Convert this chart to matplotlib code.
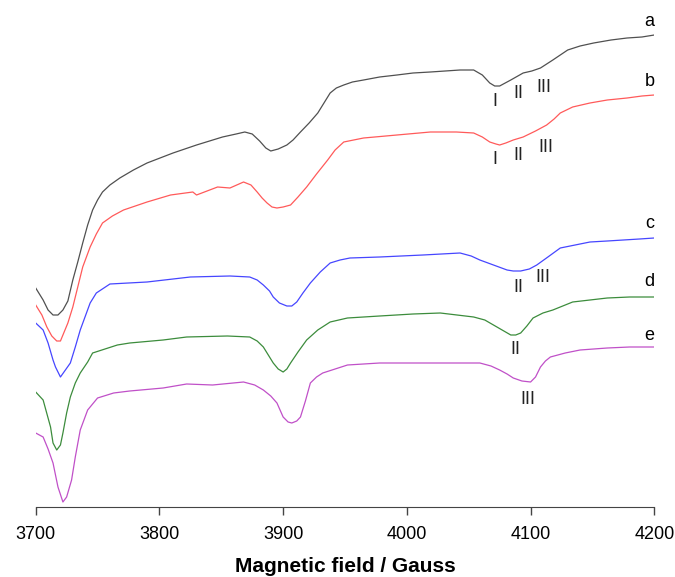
import matplotlib.pyplot as plt

## field (Gauss) and intensity (arb. units)
field_a = [3700, 3706, 3710, 3714, 3718, 3722, 3726, 3730, 3734, 3738, 3742, 3746, 3750, 3754,
           3760, 3768, 3779, 3790, 3811, 3830, 3851, 3862, 3869, 3875, 3881, 3886, 3890,
           3896, 3903, 3908, 3914, 3921, 3928, 3933, 3938, 3943, 3949, 3956, 3965, 3978,
           3992, 4005, 4019, 4031, 4043, 4054, 4061, 4067, 4071, 4075, 4084, 4094, 4101,
           4108, 4118, 4130, 4140, 4151, 4165, 4178, 4190, 4200]
sig_a = [219, 207, 197, 192, 192, 197, 206, 227, 245, 264, 282, 297, 307, 315,
         322, 329, 337, 344, 354, 362, 370, 373, 375, 373, 366, 359, 356,
         358, 362, 367, 375, 384, 394, 404, 414, 419, 422, 425, 427, 430,
         432, 434, 435, 436, 437, 437, 432, 424, 421, 421, 427, 434, 436,
         439, 447, 457, 461, 464, 467, 469, 470, 472]

field_b = [3700, 3705, 3709, 3713, 3717, 3720, 3722, 3726, 3730, 3734, 3738, 3744, 3749, 3754,
           3762, 3771, 3790, 3809, 3827, 3830, 3847, 3857, 3868, 3874, 3879, 3883, 3887,
           3891, 3895, 3900, 3906, 3912, 3919, 3927, 3936, 3942, 3949, 3965, 3992, 4019,
           4040, 4054, 4061, 4067, 4072, 4075, 4080, 4086, 4094, 4104, 4113, 4119, 4124,
           4134, 4148, 4162, 4178, 4190, 4200]
sig_b = [202, 192, 180, 171, 166, 166, 172, 184, 200, 220, 240, 260, 273, 284,
         291, 297, 305, 312, 315, 312, 320, 319, 325, 322, 315, 309, 304,
         300, 299, 300, 302, 310, 320, 333, 347, 357, 365, 369, 372, 375,
         375, 374, 370, 365, 363, 362, 364, 367, 370, 376, 382, 388, 394,
         400, 404, 407, 409, 411, 412]

field_c = [3700, 3706, 3710, 3714, 3716, 3720, 3724, 3728, 3732, 3736, 3744, 3749, 3760, 3775,
           3790, 3825, 3857, 3873, 3879, 3884, 3889, 3892, 3897, 3903, 3907, 3911, 3916,
           3922, 3930, 3938, 3946, 3954, 3978, 4013, 4043, 4052, 4059, 4070, 4081, 4086,
           4092, 4099, 4105, 4114, 4124, 4136, 4148, 4162, 4175, 4188, 4200]
sig_c = [184, 177, 164, 147, 140, 130, 137, 144, 160, 177, 204, 214, 223, 224,
         225, 230, 231, 230, 227, 222, 216, 210, 204, 201, 201, 205, 214,
         224, 235, 244, 247, 249, 250, 252, 254, 251, 247, 242, 237, 236,
         236, 238, 242, 250, 259, 262, 265, 266, 267, 268, 269]

field_d = [3700, 3706, 3712, 3714, 3717, 3720, 3722, 3725, 3728, 3732, 3736, 3742, 3746, 3766,
           3776, 3803, 3822, 3855, 3873, 3879, 3884, 3888, 3892, 3896, 3900, 3903, 3906,
           3912, 3919, 3928, 3938, 3952, 3978, 4005, 4027, 4054, 4063, 4070, 4077, 4084,
           4088, 4092, 4097, 4102, 4110, 4118, 4134, 4148, 4162, 4180, 4200]
sig_d = [115, 107, 80, 64, 57, 62, 74, 94, 110, 124, 134, 145, 154, 162,
         164, 167, 170, 171, 170, 166, 160, 152, 144, 138, 135, 138, 144,
         155, 167, 177, 185, 189, 191, 193, 194, 190, 187, 182, 177, 172,
         172, 174, 181, 189, 194, 197, 205, 207, 209, 210, 210]

field_e = [3700, 3706, 3710, 3714, 3718, 3722, 3725, 3729, 3732, 3736, 3742, 3750, 3763, 3776,
           3803, 3822, 3843, 3868, 3877, 3884, 3890, 3895, 3900, 3904, 3907, 3911, 3914,
           3918, 3922, 3927, 3932, 3942, 3952, 3978, 4027, 4059, 4068, 4075, 4081, 4086,
           4093, 4100, 4104, 4108, 4112, 4116, 4128, 4140, 4162, 4180, 4200]
sig_e = [74, 70, 58, 44, 20, 5, 10, 27, 50, 77, 97, 109, 114, 116,
         119, 123, 122, 125, 122, 117, 111, 104, 90, 85, 84, 86, 90,
         106, 124, 130, 134, 138, 142, 144, 144, 144, 141, 137, 133, 129,
         126, 125, 130, 140, 146, 150, 154, 157, 159, 160, 160]

curve_names = ["a", "b", "c", "d", "e"]
curve_colors = ["#505050", "#ff5a5a", "#4646ff", "#3c8c3c", "#c050c8"]
name_pos = [(4196, 485), (4196, 425), (4196, 284), (4196, 225), (4196, 172)]

## roman numeral site labels: (text, field, height)
site_labels = [("I", 4071, 405), ("II", 4090, 414), ("III", 4111, 420),
               ("I", 4071, 348), ("II", 4090, 352), ("III", 4112, 359),
               ("II", 4090, 220), ("III", 4110, 230),
               ("II", 4088, 158),
               ("III", 4098, 107)]

plt.rcParams['font.family'] = ['Liberation Sans', 'DejaVu Sans']

fig = plt.figure(figsize=(6.75, 5.77), dpi=100)
ax = fig.add_axes([35.7/675, 70/577, 618.6/675, 507/577])

fields = [field_a, field_b, field_c, field_d, field_e]
sigs = [sig_a, sig_b, sig_c, sig_d, sig_e]
for f, s, c in zip(fields, sigs, curve_colors):
    ax.plot(f, s, color=c, lw=0.9)

for n, (x, y) in zip(curve_names, name_pos):
    ax.text(x, y, n, fontsize=13, ha="center", va="center", color="black")
for t, x, y in site_labels:
    ax.text(x, y, t, fontsize=13, ha="center", va="center", color="#222222")

ax.set_xlim(3700, 4200)
ax.set_ylim(0, 507)
ax.set_xticks([3700, 3800, 3900, 4000, 4100, 4200])
ax.set_yticks([])
for side in ["left", "right", "top"]:
    ax.spines[side].set_visible(False)
ax.spines["bottom"].set_color("#444444")
ax.tick_params(axis="x", direction="out", length=6, width=1, color="#444444",
               labelsize=13, pad=8)
ax.set_xlabel("Magnetic field / Gauss", fontsize=15, fontweight="bold", labelpad=10)

fig.savefig("out.png", dpi=100)
